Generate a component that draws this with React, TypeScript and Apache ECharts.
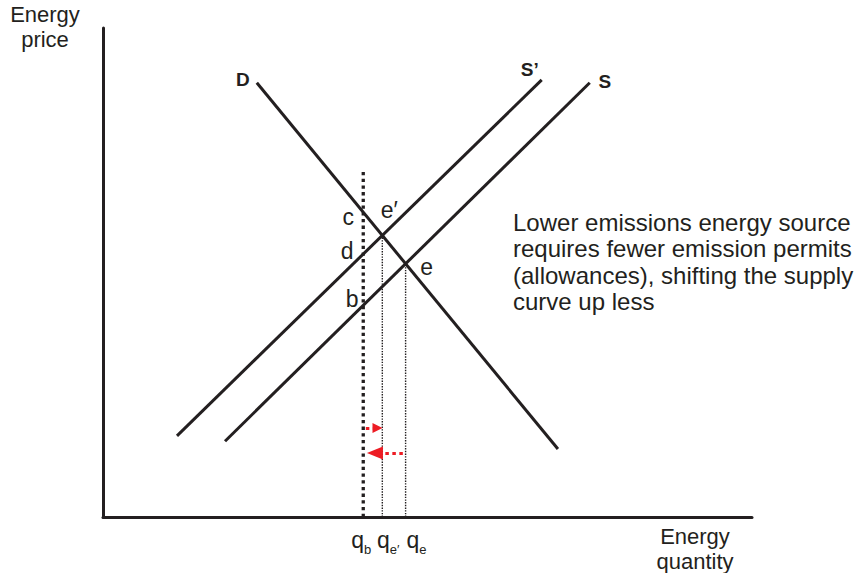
import React, { useEffect, useRef } from "react";
import * as echarts from "echarts";

// Curves: end points in diagram units (x: 0..100 quantity, y: 0..100 price)
const demandLine: number[][] = [[23.7, 88.8], [70.1, 13.9]];
const supplyLine: number[][] = [[18.8, 15.5], [75.0, 88.8]];
const supplyShiftedLine: number[][] = [[11.4, 16.6], [67.6, 89.4]];
const qbValue = 40.1;
const qbTop = 70.6;
const smallArrow: number[][] = [[40.5, 18.2], [42.3, 18.2]];
const bigArrow: number[][] = [[46.2, 13.1], [41.9, 13.1]];
const yTitle: string[] = ["Energy", "price"];
const xTitle: string[] = ["Energy", "quantity"];
const noteLines: string[] = [
  "Lower emissions energy source",
  "requires fewer emission permits",
  "(allowances), shifting the supply",
  "curve up less",
];

const INK = "#231f20";
const RED = "#ed1c24";
const FONT = "'Liberation Sans', Arial, Helvetica, sans-serif";

function intersect(a: number[][], b: number[][]): number[] {
  const [x1, y1] = a[0];
  const [x2, y2] = a[1];
  const [x3, y3] = b[0];
  const [x4, y4] = b[1];
  const d = (x1 - x2) * (y3 - y4) - (y1 - y2) * (x3 - x4);
  const t = ((x1 - x3) * (y3 - y4) - (y1 - y3) * (x3 - x4)) / d;
  return [x1 + t * (x2 - x1), y1 + t * (y2 - y1)];
}

function yAt(line: number[][], x: number): number {
  const [x1, y1] = line[0];
  const [x2, y2] = line[1];
  return y1 + ((x - x1) * (y2 - y1)) / (x2 - x1);
}

export default function App() {
  const ref = useRef<HTMLDivElement>(null);

  useEffect(() => {
    if (!ref.current) return;
    const chart = echarts.init(ref.current, undefined, { renderer: "svg" });

    const ePrime = intersect(demandLine, supplyShiftedLine);
    const e = intersect(demandLine, supplyLine);
    const c = [qbValue, yAt(demandLine, qbValue)];
    const d = [qbValue, yAt(supplyShiftedLine, qbValue)];
    const b = [qbValue, yAt(supplyLine, qbValue)];

    const solid = (name: string, data: number[][]) => ({
      type: "line",
      name,
      data,
      showSymbol: false,
      symbol: "none",
      silent: true,
      lineStyle: { color: INK, width: 3, cap: "butt" },
      z: 3,
    });

    const lbl = (
      value: number[],
      text: string,
      offset: number[],
      bold = false,
      size = 23
    ) => ({
      value,
      label: {
        show: true,
        position: "inside",
        formatter: text,
        offset,
        color: INK,
        opacity: 1,
        textBorderWidth: 0,
        fontFamily: FONT,
        fontSize: size,
        fontWeight: bold ? "bold" : "normal",
      },
    });

    const qLabel = (x: number, sub: string, dx: number) => ({
      value: [x, 0],
      label: {
        show: true,
        position: "inside",
        formatter: `{q|q}{s|${sub}}`,
        offset: [dx, 23],
        color: INK,
        opacity: 1,
        textBorderWidth: 0,
        rich: {
          q: { fontSize: 23, fontFamily: FONT, color: INK, lineHeight: 32 },
          s: {
            fontSize: 13,
            fontFamily: FONT,
            color: INK,
            lineHeight: 14,
            verticalAlign: "bottom",
          },
        },
      },
    });

    const arrow = (coords: number[][], size: number[]) => ({
      type: "lines",
      coordinateSystem: "cartesian2d",
      silent: true,
      symbol: ["none", "triangle"],
      symbolSize: [0, size],
      lineStyle: { color: RED, width: 3, type: [3.5, 3.5], opacity: 1, curveness: 0 },
      itemStyle: { color: RED },
      data: [{ coords }],
      z: 5,
    });

    const textItem = (text: string, x: number, y: number, align: string, size: number) => ({
      type: "text",
      silent: true,
      style: {
        text,
        x,
        y,
        align,
        verticalAlign: "middle",
        fontSize: size,
        fontFamily: FONT,
        fill: INK,
      },
    });

    chart.setOption({
      animation: false,
      grid: { left: 103, top: 28, width: 649, height: 489 },
      xAxis: {
        type: "value",
        min: 0,
        max: 100,
        axisLine: { show: true, lineStyle: { color: INK, width: 3 } },
        axisTick: { show: false },
        axisLabel: { show: false },
        splitLine: { show: false },
      },
      yAxis: {
        type: "value",
        min: 0,
        max: 100,
        axisLine: { show: true, lineStyle: { color: INK, width: 3 } },
        axisTick: { show: false },
        axisLabel: { show: false },
        splitLine: { show: false },
      },
      series: [
        solid("D", demandLine),
        solid("S", supplyLine),
        solid("S'", supplyShiftedLine),
        {
          type: "line",
          data: [[qbValue, 0], [qbValue, qbTop]],
          showSymbol: false,
          symbol: "none",
          silent: true,
          lineStyle: { color: INK, width: 3.3, type: [3.3, 3.4], cap: "butt" },
          z: 2,
        },
        {
          type: "line",
          data: [[ePrime[0], 0], ePrime],
          showSymbol: false,
          symbol: "none",
          silent: true,
          lineStyle: { color: INK, width: 1.4, type: [1.4, 1.3], cap: "butt" },
          z: 2,
        },
        {
          type: "line",
          data: [[e[0], 0], e],
          showSymbol: false,
          symbol: "none",
          silent: true,
          lineStyle: { color: INK, width: 1.4, type: [1.4, 1.3], cap: "butt" },
          z: 2,
        },
        arrow(smallArrow, [10, 10]),
        arrow(bigArrow, [13, 16]),
        {
          type: "scatter",
          silent: true,
          symbolSize: 1,
          itemStyle: { color: "rgba(0,0,0,0)", opacity: 1 },
          z: 6,
          data: [
            lbl(c, "c", [-15, 5]),
            lbl(d, "d", [-16, -3]),
            lbl(b, "b", [-11, -6]),
            lbl(ePrime, "e\u2032", [7, -25]),
            lbl(e, "e", [21, 3]),
            lbl(demandLine[0], "D", [-14, -3], true, 19),
            lbl(supplyShiftedLine[1], "S\u2019", [-12, -10], true, 19),
            lbl(supplyLine[1], "S", [15, -1], true, 19),
            qLabel(qbValue, "b", -2),
            qLabel(ePrime[0], "e\u2032", 6),
            qLabel(e[0], "e", 11),
          ],
        },
      ],
      graphic: [
        textItem(yTitle[0], 45, 14, "center", 22),
        textItem(yTitle[1], 45, 39, "center", 22),
        textItem(xTitle[0], 695, 536, "center", 22),
        textItem(xTitle[1], 695, 561, "center", 22),
        ...noteLines.map((t, i) => textItem(t, 513, 222 + i * 26.5, "left", 24)),
      ],
    });

    return () => chart.dispose();
  }, []);

  return (
    <div
      ref={ref}
      style={{ position: "fixed", left: 0, top: 0, width: 865, height: 573, background: "#fff" }}
    />
  );
}
